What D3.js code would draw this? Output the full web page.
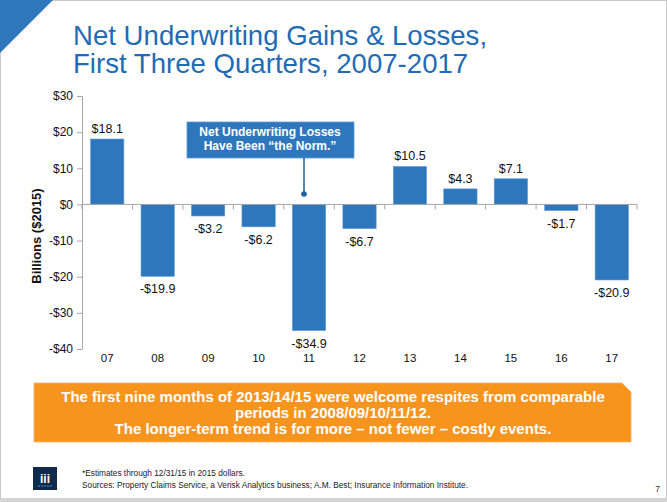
<!DOCTYPE html>
<html>
<head>
<meta charset="utf-8">
<script src="https://cdn.jsdelivr.net/npm/d3@7"></script>
<style>
  html, body { margin: 0; padding: 0; background: #fff; }
  svg { display: block; font-family: Arial, "Liberation Sans", sans-serif; }
</style>
</head>
<body>
<svg id="chart" width="667" height="502"></svg>
<script>
// chart values
var years = ['07', '08', '09', '10', '11', '12', '13', '14', '15', '16', '17'];
var gains = [18.1, -19.9, -3.2, -6.2, -34.9, -6.7, 10.5, 4.3, 7.1, -1.7, -20.9];
var y_ticks = [-40, -30, -20, -10, 0, 10, 20, 30];
var title_lines = ['Net Underwriting Gains & Losses,', 'First Three Quarters, 2007-2017'];
var callout_lines = ['Net Underwriting Losses', 'Have Been \u201cthe Norm.\u201d'];
var banner_lines = [
	'The first nine months of 2013/14/15 were welcome respites from comparable',
	'periods in 2008/09/10/11/12.',
	'The longer-term trend is for more \u2013 not fewer \u2013 costly events.'
];
var note_lines = [
	'*Estimates through 12/31/15 in 2015 dollars.',
	'Sources: Property Claims Service, a Verisk Analytics business; A.M. Best; Insurance Information Institute.'
];

var blue = '#2f77bc';
var svg = d3.select('#chart');

// Slide frame and corner.
svg.append('rect').attr('x', 0.5).attr('y', 0.5).attr('width', 666).attr('height', 501)
	.style('fill', '#fff').style('stroke', '#c9c9c9');
svg.append('rect').attr('x', 0).attr('y', 498).attr('width', 667).attr('height', 4).style('fill', '#d4d4d4');
svg.append('path').attr('d', 'M0,0L53,0L0,53Z').style('fill', blue);

// Title.
svg.append('g').selectAll('text')
	.data(title_lines)
	.enter().append('text')
	.attr('x', 73)
	.attr('y', (d, i) => 45 + i * 28)
	.style('font-size', '27.6px')
	.style('fill', '#1f6cb6')
	.text(d => d);

// Scales.
var x = d3.scaleBand().domain(years).range([82, 637]).paddingInner(0.34).paddingOuter(0.17);
var y = d3.scaleLinear().domain([-40, 30]).range([349, 96]);

// Y axis.
var yAxis = svg.append('g')
	.attr('transform', 'translate(82,0)')
	.call(d3.axisLeft(y).tickValues(y_ticks).tickSize(5).tickPadding(4)
		.tickFormat(d => (d < 0 ? '-$' : '$') + Math.abs(d)));
yAxis.select('.domain').style('stroke', '#a6a6a6');
yAxis.selectAll('line').style('stroke', '#a6a6a6');
yAxis.selectAll('text').style('font-size', '12px').style('fill', '#111').style('font-family', 'Arial, "Liberation Sans", sans-serif');

svg.append('text')
	.attr('transform', 'translate(41,236)rotate(-90)')
	.attr('text-anchor', 'middle')
	.style('font-size', '13px')
	.style('font-weight', 'bold')
	.style('fill', '#111')
	.text('Billions ($2015)');

// Bars.
svg.append('g').selectAll('rect')
	.data(gains)
	.enter().append('rect')
	.attr('x', (d, i) => x(years[i]))
	.attr('y', d => y(Math.max(0, d)))
	.attr('width', x.bandwidth())
	.attr('height', d => Math.abs(y(d) - y(0)))
	.style('fill', blue)
	.style('stroke', '#5d9bd6')
	.style('stroke-width', 0.6);

// Zero line with category dividers.
svg.append('line')
	.attr('x1', 82).attr('x2', 637)
	.attr('y1', y(0)).attr('y2', y(0))
	.style('stroke', '#a6a6a6');
svg.append('g').selectAll('line')
	.data(d3.range(years.length + 1))
	.enter().append('line')
	.attr('x1', i => 82 + i * x.step()).attr('x2', i => 82 + i * x.step())
	.attr('y1', y(0)).attr('y2', y(0) + 5)
	.style('stroke', '#a6a6a6');

// Value labels.
svg.append('g').selectAll('text')
	.data(gains)
	.enter().append('text')
	.attr('x', (d, i) => x(years[i]) + x.bandwidth() / 2)
	.attr('y', d => d >= 0 ? y(d) - 6 : y(d) + 17)
	.attr('text-anchor', 'middle')
	.style('font-size', '12.5px')
	.style('fill', '#111')
	.text(d => (d < 0 ? '-$' : '$') + Math.abs(d).toFixed(1));

// Category labels.
svg.append('g').selectAll('text')
	.data(years)
	.enter().append('text')
	.attr('x', d => x(d) + x.bandwidth() / 2)
	.attr('y', 362)
	.attr('text-anchor', 'middle')
	.style('font-size', '11.5px')
	.style('fill', '#111')
	.text(d => d);

// Callout.
svg.append('rect').attr('x', 187).attr('y', 122).attr('width', 167).attr('height', 36)
	.style('fill', blue).style('stroke', '#5d9bd6').style('stroke-width', 0.8);
svg.append('line').attr('x1', 304).attr('x2', 304).attr('y1', 158).attr('y2', 194)
	.style('stroke', '#1f5f9e').style('stroke-width', 1.5);
svg.append('circle').attr('cx', 304).attr('cy', 194).attr('r', 2.8).style('fill', '#1f5f9e');
svg.append('g').selectAll('text')
	.data(callout_lines)
	.enter().append('text')
	.attr('x', 270)
	.attr('y', (d, i) => 136 + i * 14)
	.attr('text-anchor', 'middle')
	.style('font-size', '12px')
	.style('font-weight', 'bold')
	.style('fill', '#fff')
	.text(d => d);

// Orange banner.
svg.append('path').attr('d', 'M34,383L622,383L631,392L631,442L34,442Z')
	.style('fill', '#f7941e').style('stroke', '#f9b365').style('stroke-width', 0.8);
svg.append('g').selectAll('text')
	.data(banner_lines)
	.enter().append('text')
	.attr('x', 333)
	.attr('y', (d, i) => 402 + i * 16)
	.attr('text-anchor', 'middle')
	.style('font-size', '15px')
	.style('font-weight', 'bold')
	.style('fill', '#fff')
	.text(d => d);

// Footer.
svg.append('rect').attr('x', 33).attr('y', 467).attr('width', 24).attr('height', 23).style('fill', '#0f2b4c');
svg.append('text').attr('x', 45).attr('y', 483).attr('text-anchor', 'middle')
	.style('font-size', '12px').style('font-weight', 'bold').style('fill', '#fff').text('iii');
svg.append('g').selectAll('circle')
	.data([39, 42, 45, 48, 51])
	.enter().append('circle')
	.attr('cx', d => d).attr('cy', 486).attr('r', 0.8).style('fill', '#5d9bd6');
svg.append('g')
	.attr('transform', 'translate(82,0)scale(0.9,1)')
	.selectAll('text')
	.data(note_lines)
	.enter().append('text')
	.attr('x', 0)
	.attr('y', (d, i) => 476 + i * 12)
	.style('font-size', '9.2px')
	.style('fill', '#222')
	.text(d => d);
svg.append('text').attr('x', 660).attr('y', 492).attr('text-anchor', 'end')
	.style('font-size', '8.5px').style('fill', '#333').text('7');
</script>
</body>
</html>
